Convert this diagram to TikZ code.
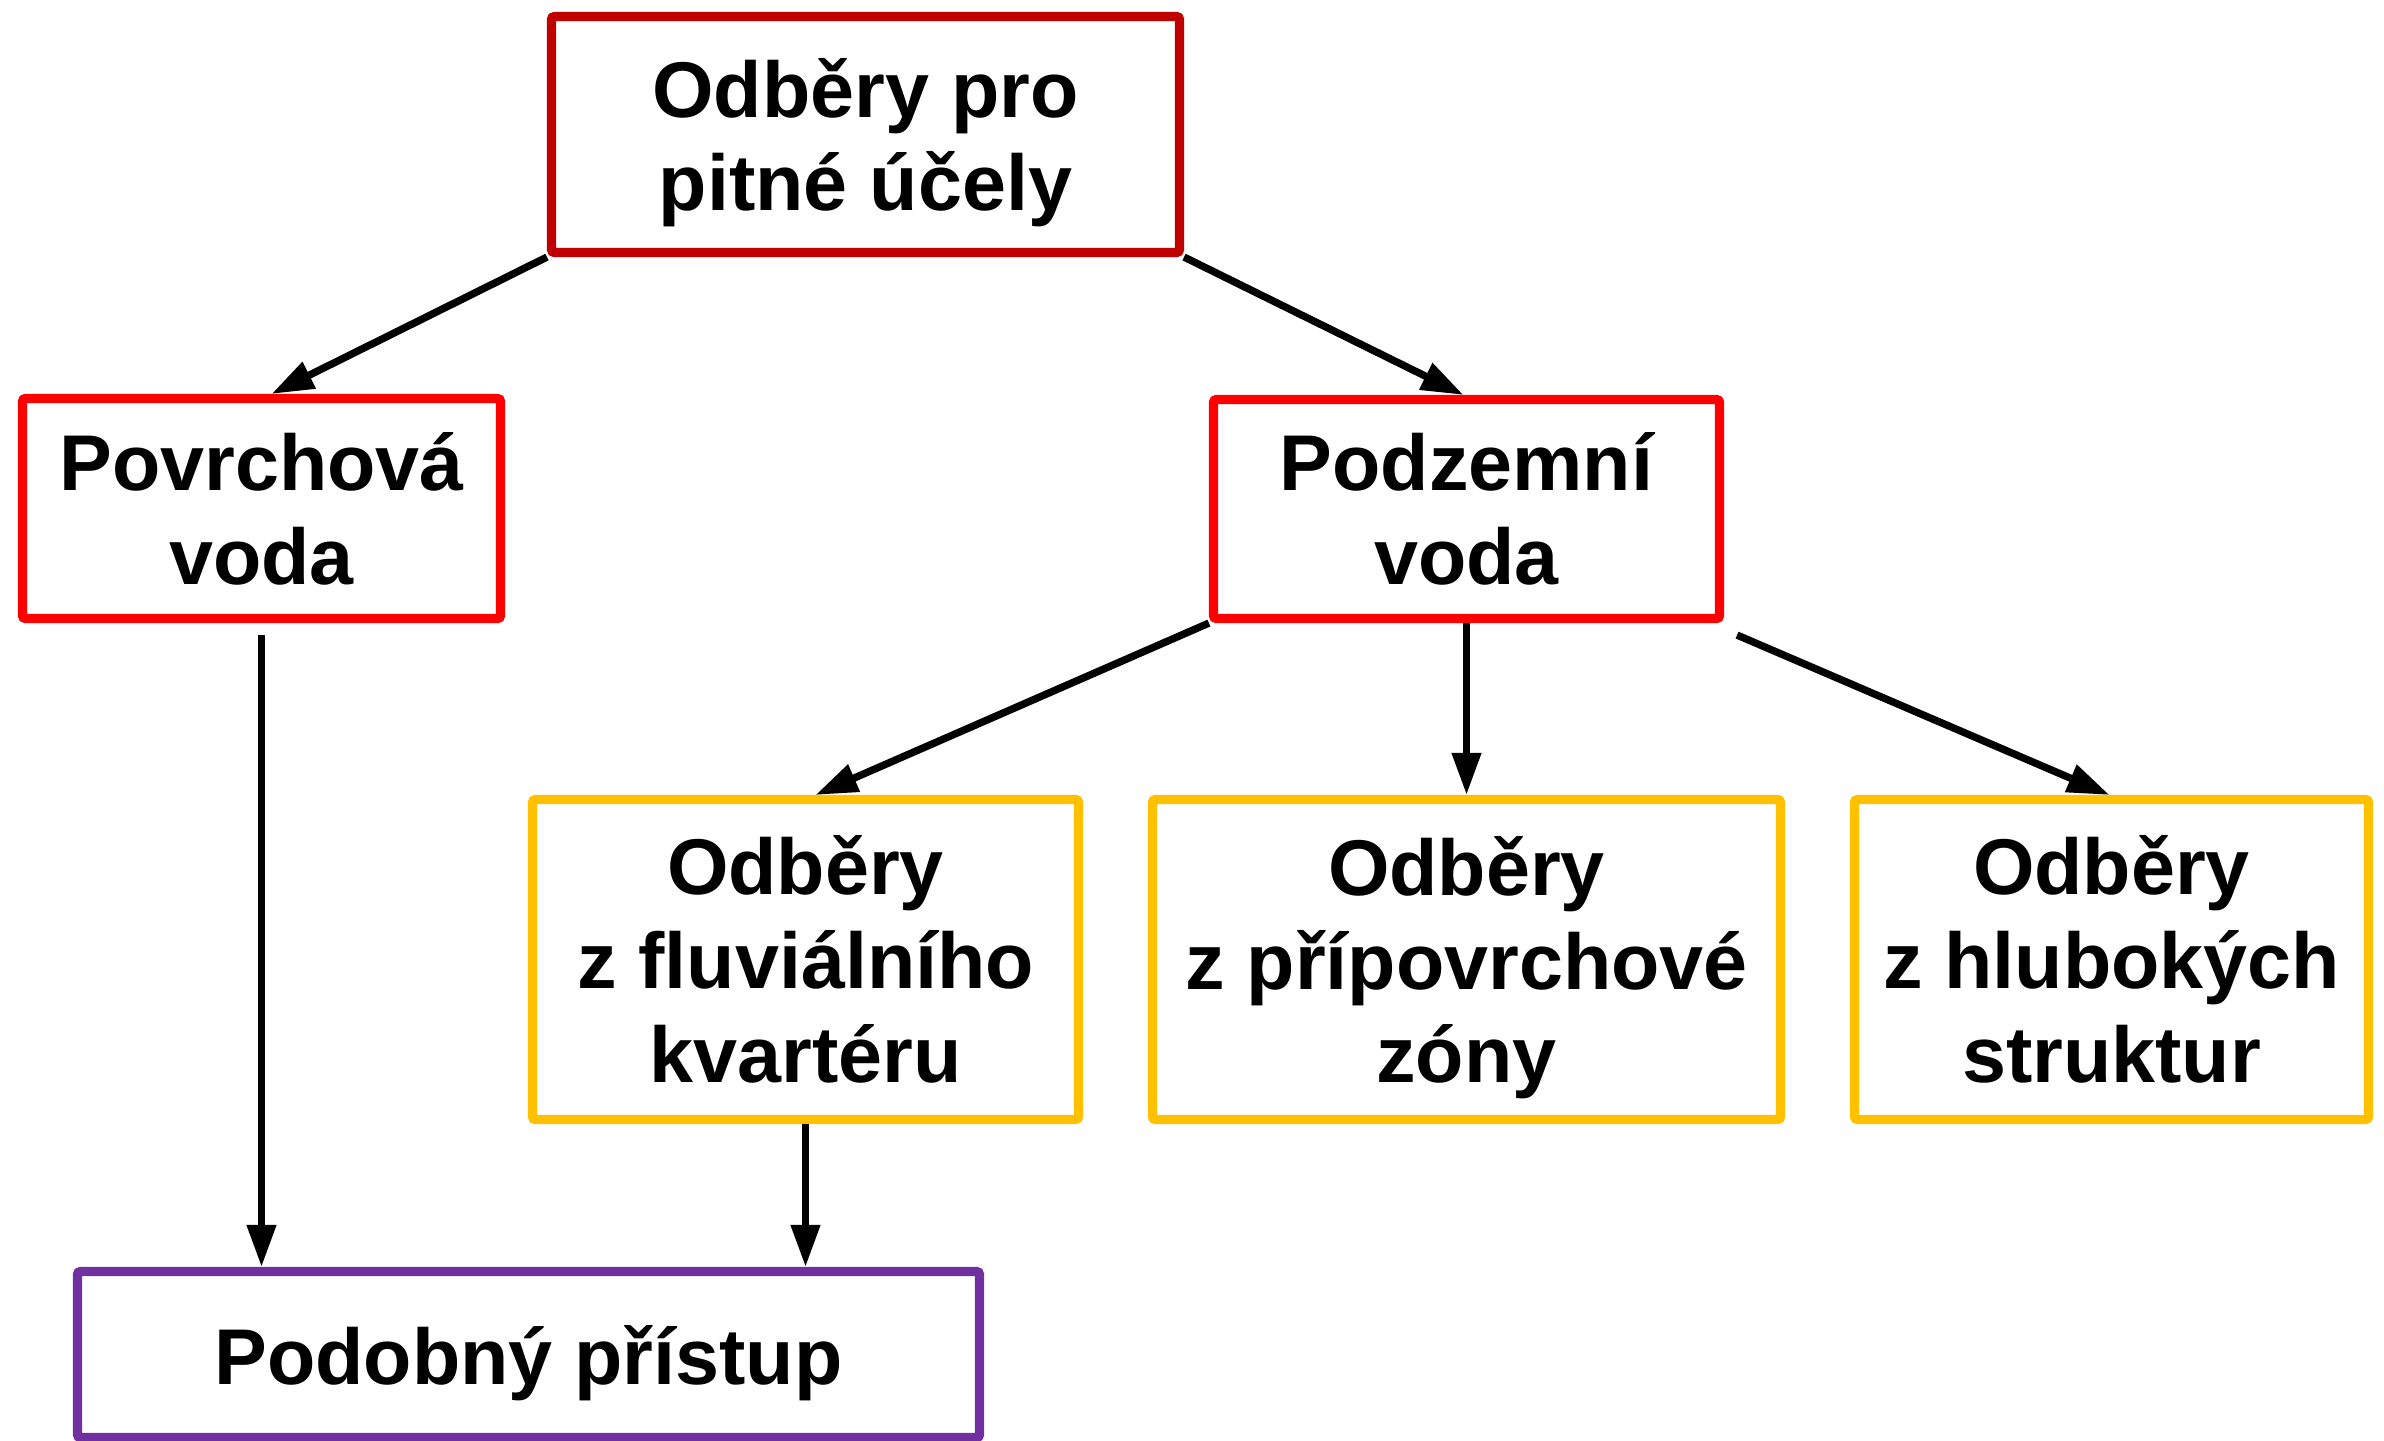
\documentclass[tikz,border=0pt]{standalone}
\usepackage{fontspec}
\setmainfont{Liberation Sans}
\usetikzlibrary{arrows.meta, positioning}
\definecolor{topred}{RGB}{192,0,0}
\definecolor{srcred}{RGB}{255,0,0}
\definecolor{zonegold}{RGB}{255,192,0}
\definecolor{samepurple}{RGB}{112,48,160}
\newcommand{\nodepth}[1]{\raisebox{0pt}[\height][0pt]{#1}}

\begin{document}
\begin{tikzpicture}[
    box/.style={draw=#1, line width=2.6pt, rounded corners=0.8pt, fill=white, align=center,
        inner sep=0pt, font=\fontsize{22.5}{26.7}\selectfont\bfseries},
    link/.style={-{Triangle[length=12pt, width=8pt]}, line width=2.1pt}
]
    \useasboundingbox[fill=white] (0,0) rectangle (23.84,-14.40);

    % Top level
    \node[box=topred, minimum width=6.28cm, minimum height=2.36cm] at (8.655,-1.345) (odb) {Odběry pro\\\nodepth{pitné účely}};

    % Water sources
    \node[box=srcred, minimum width=4.78cm, minimum height=2.20cm] at (2.615,-5.085) (povrch) {Povrchová\\voda};
    \node[box=srcred, minimum width=5.06cm, minimum height=2.19cm] at (14.665,-5.09) (podzem) {Podzemní\\voda};

    % Groundwater zones
    \node[box=zonegold, minimum width=5.46cm, minimum height=3.20cm] at (8.055,-9.595) (fluv) {Odběry\\z fluviálního\\kvartéru};
    \node[box=zonegold, minimum width=6.28cm, minimum height=3.20cm] at (14.665,-9.595) (pripov) {Odběry\\z přípovrchové\\\nodepth{zóny}};
    \node[box=zonegold, minimum width=5.14cm, minimum height=3.20cm] at (21.115,-9.595) (hlub) {Odběry\\z hlubokých\\struktur};

    % Common approach
    \node[box=samepurple, minimum width=9.02cm, minimum height=1.66cm] at (5.285,-13.545) (podob) {\nodepth{Podobný přístup}};

    % Connectors
    \draw[link] (odb.south west) -- ([xshift=1mm]povrch.north);
    \draw[link] (odb.south east) -- ([xshift=-0.3mm]podzem.north);
    \draw[link, shorten <=1.2mm] (povrch.south) -- (povrch.south |- podob.north);
    \draw[link] (podzem.south west) -- ([xshift=1mm]fluv.north);
    \draw[link] (podzem.south) -- (pripov.north);
    \draw[link] ([shift={(1.3mm,-1.2mm)}]podzem.south east) -- ([xshift=-0.2mm]hlub.north);
    \draw[link] (fluv.south) -- (fluv.south |- podob.north);
\end{tikzpicture}
\end{document}
